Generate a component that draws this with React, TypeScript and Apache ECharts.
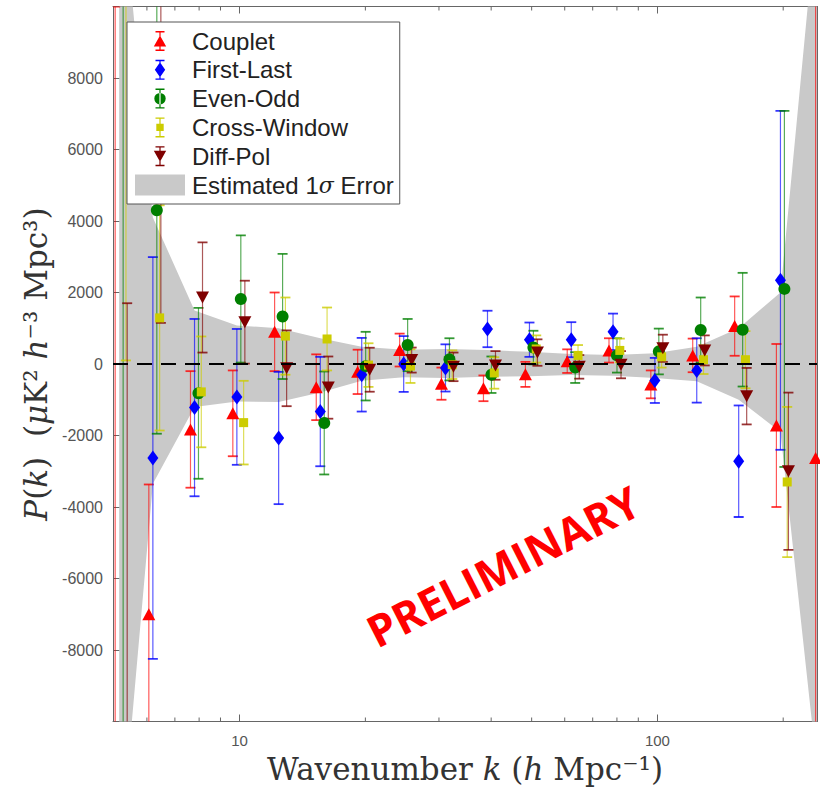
import React, { useEffect, useRef } from 'react';
import * as echarts from 'echarts';

// Wavenumber bins (h Mpc^-1)
const kBins = [5.15, 6.2, 7.8, 9.85, 12.4, 15.6, 19.6, 24.7, 31.1, 39.2, 49.4, 62.2, 78.3, 98.6, 124.2, 156.5, 197, 244.5];

// Power spectrum estimates P(k) and their 1-sigma error bars, one entry per bin
const coupletP = [-20000, -7000, -1830, -1380, 900, -650, -220, 390, -550, -680, -290, 80, 380, -570, 240, 1060, -1720, -2630];
const coupletErr = [30000, 3630, 1630, 1200, 1100, 920, 620, 460, 450, 360, 350, 330, 340, 390, 470, 830, 2280, 14000];

const firstLastP = [null, -2630, -1220, -920, -2070, -1330, -300, 0, -110, 980, 680, 680, 900, -460, -180, -2720, 2340, null];
const firstLastErr = [null, 5620, 2480, 1900, 1850, 1530, 1030, 780, 660, 510, 480, 490, 510, 630, 900, 1560, 4740, null];

const evenOddP = [-12000, 4300, -820, 1820, 1330, -1650, -60, 530, 130, -300, 460, -100, 240, 350, 950, 960, 2100, null];
const evenOddErr = [40000, 6250, 2390, 1780, 1750, 1440, 960, 730, 590, 510, 470, 430, 480, 640, 910, 1590, 4980, null];

const crossWindowP = [14000, 1290, -780, -1640, 780, 700, -30, -60, -20, -250, 420, 240, 380, 200, 120, 120, -3300, null];
const crossWindowErr = [13900, 3150, 1550, 1170, 1080, 880, 610, 470, 400, 440, 380, 290, 330, 300, 400, 800, 2100, null];

const diffPolP = [-14000, 10800, 1860, 1170, -120, -660, -160, 110, -80, -40, 320, -80, -20, 440, 380, -900, -3000, null];
const diffPolErr = [15700, 9650, 1540, 1160, 1060, 870, 615, 350, 400, 400, 370, 330, 380, 380, 420, 790, 2200, null];

// Estimated 1-sigma error envelope
const sigmaUpper = [14000, 4100, 1500, 1080, 1000, 720, 480, 400, 420, 390, 340, 280, 250, 300, 480, 1000, 2000, 13500];
const sigmaLower = [-14000, -3350, -1200, -1050, -1060, -800, -470, -370, -390, -360, -340, -310, -330, -390, -480, -1000, -1900, -12000];

// Axis ticks
const xMajorTicks = [10, 100];
const xMinorTicks = [6, 7, 8, 9, 20, 30, 40, 50, 60, 70, 80, 90, 200];

const K_MIN = 4.977;
const K_MAX = 240.96;
const P_MIN = -10000;
const P_MAX = 10000;
const P_STEP = 2000;

const BAND_NAME = 'Estimated 1σ Error';
const BAND_COLOR = '#c9c9c9';

// legend glyphs: error bar with the marker, drawn in a 50x21 box
const barGlyph = 'M0 0M50 21M20.5 0.5L29.5 0.5L29.5 1.9L20.5 1.9ZM24.4 0.5L25.6 0.5L25.6 20.5L24.4 20.5ZM20.5 19.1L29.5 19.1L29.5 20.5L20.5 20.5Z';
const glyphs: Record<string, string> = {
  triangle: 'path://' + barGlyph + 'M18.8 16L25 5L31.2 16Z',
  diamond: 'path://' + barGlyph + 'M25 3L30.2 10.5L25 18L19.8 10.5Z',
  circle: 'path://' + barGlyph + 'M19.3 10.5A5.7 5.7 0 1 0 30.7 10.5A5.7 5.7 0 1 0 19.3 10.5Z',
  square: 'path://' + barGlyph + 'M21.3 6.8L28.7 6.8L28.7 14.2L21.3 14.2Z',
  down: 'path://' + barGlyph + 'M18.8 5L31.2 5L25 16Z',
};

const datasets = [
  { name: 'Couplet', p: coupletP, err: coupletErr, color: '#ff0000', symbol: 'triangle', size: [13, 12], glyph: 'triangle', dodge: 0.978 },
  { name: 'First-Last', p: firstLastP, err: firstLastErr, color: '#0000ff', symbol: 'diamond', size: [11, 15], glyph: 'diamond', dodge: 1.0 },
  { name: 'Even-Odd', p: evenOddP, err: evenOddErr, color: '#007f00', symbol: 'circle', size: 12, glyph: 'circle', dodge: 1.022 },
  { name: 'Cross-Window', p: crossWindowP, err: crossWindowErr, color: '#cccc00', symbol: 'rect', size: 9, glyph: 'square', dodge: 1.038 },
  { name: 'Diff-Pol', p: diffPolP, err: diffPolErr, color: '#7f0000', symbol: 'path://M0 0L12 0L6 11Z', size: [13, 12], glyph: 'down', dodge: 1.045 },
];

const AXIS_GRAY = '#666';

function buildOption() {
  const series: any[] = [];

  series.push({
    name: BAND_NAME,
    type: 'custom',
    clip: true,
    silent: true,
    itemStyle: { color: BAND_COLOR },
    data: [[kBins[0], 0]],
    renderItem: (params: any, api: any) => {
      if (params.dataIndex !== 0) return null;
      const up = kBins.map((k, i) => api.coord([k, sigmaUpper[i]]));
      const lo = kBins.map((k, i) => api.coord([k, sigmaLower[i]])).reverse();
      return { type: 'polygon', shape: { points: up.concat(lo) }, style: { fill: BAND_COLOR } };
    },
  });

  series.push({
    name: 'zero',
    type: 'line',
    silent: true,
    symbol: 'none',
    data: [[K_MIN, 0], [K_MAX, 0]],
    lineStyle: { color: '#000', width: 1.8, type: [15, 9] },
  });

  series.push({
    name: 'minor ticks',
    type: 'custom',
    silent: true,
    data: xMinorTicks.map((k) => [k, 0]),
    renderItem: (params: any, api: any) => {
      const x = api.coord([api.value(0), 0])[0];
      const cs = params.coordSys;
      const st = { stroke: AXIS_GRAY, lineWidth: 1 };
      return {
        type: 'group',
        children: [
          { type: 'line', shape: { x1: x, y1: cs.y + cs.height, x2: x, y2: cs.y + cs.height - 4 }, style: st },
          { type: 'line', shape: { x1: x, y1: cs.y, x2: x, y2: cs.y + 4 }, style: st },
        ],
      };
    },
  });

  datasets.forEach((d) => {
    const pts: number[][] = [];
    kBins.forEach((k, i) => {
      if (d.p[i] !== null && d.err[i] !== null) pts.push([k * d.dodge, d.p[i] as number, d.err[i] as number]);
    });
    series.push({
      name: d.name + ' error',
      type: 'custom',
      clip: true,
      silent: true,
      data: pts,
      renderItem: (params: any, api: any) => {
        const k = api.value(0);
        const p = api.value(1);
        const e = api.value(2);
        const top = api.coord([k, p + e]);
        const bot = api.coord([k, p - e]);
        const x = top[0];
        return {
          type: 'group',
          children: [
            { type: 'line', shape: { x1: x, y1: top[1], x2: x, y2: bot[1] }, style: { stroke: d.color, lineWidth: 1.2, opacity: 0.65 } },
            { type: 'line', shape: { x1: x - 5, y1: top[1], x2: x + 5, y2: top[1] }, style: { stroke: d.color, lineWidth: 1.8, opacity: 0.8 } },
            { type: 'line', shape: { x1: x - 5, y1: bot[1], x2: x + 5, y2: bot[1] }, style: { stroke: d.color, lineWidth: 1.8, opacity: 0.8 } },
          ],
        };
      },
    });
    series.push({
      name: d.name,
      type: 'scatter',
      clip: true,
      symbol: d.symbol,
      symbolSize: d.size,
      itemStyle: { color: d.color, opacity: 1 },
      data: pts.map((q) => [q[0], q[1]]),
    });
  });

  const tickLabelStyle = { fontFamily: 'Liberation Sans', color: '#555' };
  const nameRich = {
    r: { fontFamily: 'DejaVu Serif', fontSize: 31, color: '#333' },
    i: { fontFamily: 'DejaVu Serif', fontStyle: 'italic', fontSize: 31, color: '#333' },
  };

  return {
    animation: false,
    backgroundColor: '#fff',
    grid: { left: 113, right: 1, top: 6.5, bottom: 71.5, containLabel: false },
    xAxis: [
      {
        type: 'log',
        logBase: 10,
        min: K_MIN,
        max: K_MAX,
        position: 'bottom',
        axisLine: { onZero: false, lineStyle: { color: AXIS_GRAY, width: 1 } },
        axisTick: { inside: true, length: 7, lineStyle: { color: AXIS_GRAY } },
        splitLine: { show: false },
        axisLabel: {
          ...tickLabelStyle,
          fontSize: 15,
          margin: 11,
          formatter: (v: number) => {
            const hit = xMajorTicks.find((t) => Math.abs(v - t) < 1e-6 * t);
            return hit ? String(hit) : '';
          },
        },
        name: '{r|Wavenumber }{i|k}{r| (}{i|h}{r| Mpc⁻¹)}',
        nameLocation: 'middle',
        nameGap: 32,
        nameTextStyle: { rich: nameRich },
      },
      {
        type: 'log',
        logBase: 10,
        min: K_MIN,
        max: K_MAX,
        position: 'top',
        axisLine: { onZero: false, lineStyle: { color: AXIS_GRAY, width: 1 } },
        axisTick: { inside: true, length: 7, lineStyle: { color: AXIS_GRAY } },
        axisLabel: { show: false },
        splitLine: { show: false },
      },
    ],
    yAxis: [
      {
        type: 'value',
        min: P_MIN,
        max: P_MAX,
        interval: P_STEP,
        position: 'left',
        axisLine: { show: true, onZero: false, lineStyle: { color: AXIS_GRAY, width: 1 } },
        axisTick: { show: true, inside: true, length: 7, lineStyle: { color: AXIS_GRAY } },
        splitLine: { show: false },
        axisLabel: {
          ...tickLabelStyle,
          fontSize: 16,
          margin: 10,
          formatter: (v: number) => (Math.abs(v) >= P_MAX ? '' : String(v)),
        },
        name: '{i|P}{r|(}{i|k}{r|)  (}{i|μ}{r|K² }{i|h}{r|⁻³ Mpc³)}',
        nameLocation: 'middle',
        nameRotate: 90,
        nameGap: 60,
        nameTextStyle: { rich: nameRich },
      },
      {
        type: 'value',
        min: P_MIN,
        max: P_MAX,
        interval: P_STEP,
        position: 'right',
        axisLine: { show: true, onZero: false, lineStyle: { color: AXIS_GRAY, width: 1 } },
        axisTick: { show: true, inside: true, length: 7, lineStyle: { color: AXIS_GRAY } },
        axisLabel: { show: false },
        splitLine: { show: false },
      },
    ],
    legend: {
      orient: 'vertical',
      left: 127,
      top: 22,
      backgroundColor: '#fff',
      borderColor: '#555',
      borderWidth: 1,
      padding: [7, 6, 7, 8],
      itemWidth: 50,
      itemHeight: 21,
      itemGap: 4.8,
      itemStyle: { borderWidth: 0 },
      selectedMode: false,
      textStyle: {
        fontFamily: 'Liberation Sans',
        fontSize: 24,
        lineHeight: 24,
        color: '#222',
        padding: [0, 0, 0, 2],
        rich: {
          t: { fontFamily: 'Liberation Sans', fontSize: 24, lineHeight: 24, color: '#222' },
          g: { fontFamily: 'DejaVu Serif', fontStyle: 'italic', fontSize: 22, lineHeight: 24, color: '#222' },
        },
      },
      formatter: (name: string) => (name === BAND_NAME ? '{t|Estimated 1}{g|σ}{t| Error}' : name),
      data: [
        ...datasets.map((d) => ({ name: d.name, icon: glyphs[d.glyph], itemStyle: { color: d.color } })),
        { name: BAND_NAME, icon: 'rect', itemStyle: { color: BAND_COLOR } },
      ],
    },
    graphic: [
      {
        type: 'text',
        x: 503,
        y: 566,
        z: 100,
        rotation: (27 * Math.PI) / 180,
        style: {
          text: 'PRELIMINARY',
          fill: '#ff0000',
          fontFamily: 'Open Sans',
          fontWeight: 'bold',
          fontSize: 44,
          align: 'center',
          verticalAlign: 'middle',
        },
      },
    ],
    series,
  };
}

export default function App() {
  const ref = useRef<HTMLDivElement>(null);
  useEffect(() => {
    document.body.style.margin = '0';
    if (!ref.current) return;
    const chart = echarts.init(ref.current, undefined, { renderer: 'svg' });
    chart.setOption(buildOption() as any);
    return () => chart.dispose();
  }, []);
  return <div ref={ref} style={{ width: 820, height: 793 }} />;
}
